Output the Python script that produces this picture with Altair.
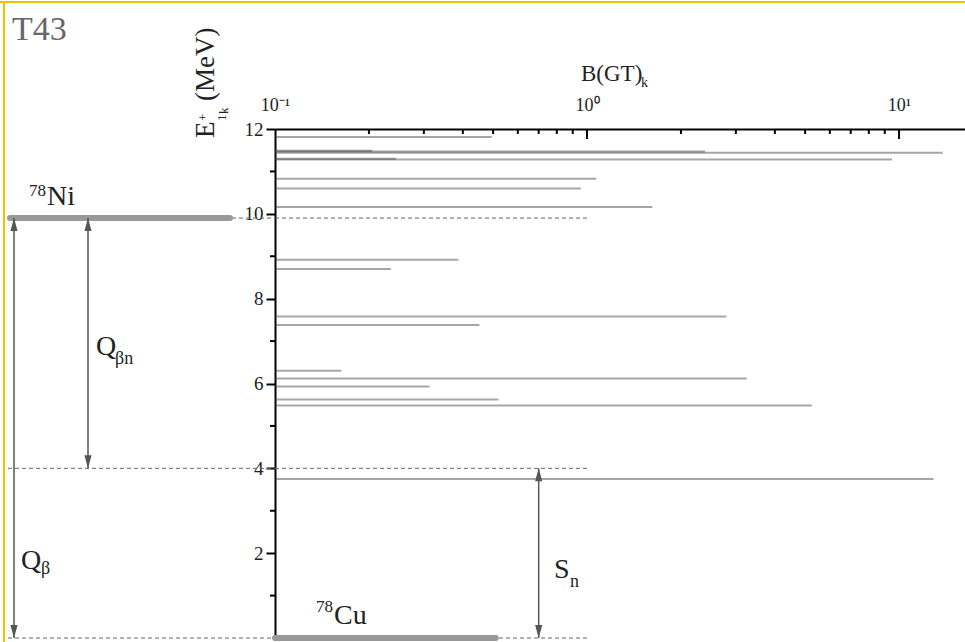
import altair as alt
import pandas as pd

# ---------------- data ----------------
energies = [11.81, 11.49, 11.47, 11.44, 11.30, 11.28, 10.83, 10.60, 10.16,
            8.92, 8.70, 7.58, 7.38, 6.30, 6.12, 5.93, 5.62, 5.48, 3.75]
bgt = [0.495, 0.205, 2.39, 13.8, 0.244, 9.5, 1.07, 0.955, 1.62,
       0.387, 0.235, 2.8, 0.452, 0.163, 3.25, 0.313, 0.52, 5.25, 12.9]

Q_BETA = 9.9      # 78Ni ground state relative to 78Cu
S_N = 4.0         # neutron separation energy
E_CU = 0.0
CU_BAR_END = 0.51
SN_ARROW_X = 0.70

y_major = [2, 4, 6, 8, 10, 12]
y_minor = [1, 3, 5, 7, 9, 11]
x_major = [0.1, 1, 10]
x_major_ticks = [1, 10]
x_minor = [0.2, 0.3, 0.4, 0.5, 0.6, 0.7, 0.8, 0.9, 2, 3, 4, 5, 6, 7, 8, 9]

# ---------------- layout ----------------
W, H = 690, 509
OX, OY = 275, 129          # page position of the plot origin (top-left)
SERIF = "Liberation Serif"
GRAY = "#555555"

def px(x):
    return x - OX

def py(y):
    return y - OY

xscale = alt.Scale(type="log", domain=[0.1, 16.27], nice=False, zero=False)
yscale = alt.Scale(domain=[0, 12], nice=False, zero=False)

xaxis = alt.Axis(orient="top", values=x_major, ticks=False, grid=False,
                 labelExpr="datum.value < 0.5 ? '10⁻¹' : (datum.value < 5 ? '10⁰' : '10¹')",
                 labelFont=SERIF, labelFontSize=18, labelColor="#222",
                 labelPadding=15, domainColor="black", domainWidth=2, title=None,
                 labelFlush=False)
yaxis = alt.Axis(orient="left", values=y_major, tickSize=9, tickWidth=2, tickColor="black",
                 grid=False, labelFont=SERIF, labelFontSize=19, labelColor="#222",
                 labelPadding=3, domainColor="black", domainWidth=2, title=None)

X = lambda f: alt.X(f, scale=xscale, axis=xaxis)
Y = lambda f: alt.Y(f, scale=yscale, axis=yaxis)

one = alt.Data(values=[{"a": 1}])

# ---------------- B(GT) bars ----------------
bars_df = pd.DataFrame({"E": energies, "bgt": bgt})
bars_df["base"] = x_major[0]
bars = alt.Chart(bars_df).mark_rule(color="#3a3a3a", opacity=0.45, strokeWidth=2).encode(
    x=X("base:Q"), x2="bgt:Q", y=Y("E:Q"))

# ---------------- dashed levels ----------------
lev_df = pd.DataFrame({"E": [Q_BETA, S_N, E_CU], "start": [0.1] * 3, "end": [1.0] * 3})
dash_right = alt.Chart(lev_df).mark_rule(color="#666", strokeWidth=1, strokeDash=[4, 3]).encode(
    x=X("start:Q"), x2="end:Q", y=Y("E:Q"))
dash_left = alt.Chart(lev_df).mark_rule(color="#666", strokeWidth=1, strokeDash=[4, 3]).encode(
    x=alt.value(px(8)), x2=alt.value(0), y=Y("E:Q"))

# ---------------- ground-state levels ----------------
ni_df = pd.DataFrame({"E": [Q_BETA]})
ni_line = alt.Chart(ni_df).mark_rule(color="#999", strokeWidth=6, strokeCap="round").encode(
    x=alt.value(px(10)), x2=alt.value(px(230)), y=Y("E:Q"))
cu_df = pd.DataFrame({"E": [E_CU], "s": [0.1], "e": [CU_BAR_END]})
cu_line = alt.Chart(cu_df).mark_rule(color="#999", strokeWidth=6, strokeCap="round").encode(
    x=X("s:Q"), x2="e:Q", y=Y("E:Q"))

# ---------------- arrows ----------------
UP = "M0,0L-0.55,2L0.55,2Z"
DOWN = "M0,0L-0.55,-2L0.55,-2Z"

def left_arrow(xpage, top, bottom):
    d = pd.DataFrame({"t": [top], "b": [bottom]})
    base = alt.Chart(d)
    line = base.mark_rule(color=GRAY, strokeWidth=1.5).encode(
        x=alt.value(px(xpage)), y=Y("t:Q"), y2="b:Q")
    up = base.mark_point(shape=UP, filled=True, size=169, color=GRAY, opacity=1).encode(
        x=alt.value(px(xpage)), y=Y("t:Q"))
    dn = base.mark_point(shape=DOWN, filled=True, size=169, color=GRAY, opacity=1).encode(
        x=alt.value(px(xpage)), y=Y("b:Q"))
    return [line, up, dn]

def data_arrow(xv, top, bottom):
    d = pd.DataFrame({"x": [xv], "t": [top], "b": [bottom]})
    base = alt.Chart(d)
    line = base.mark_rule(color=GRAY, strokeWidth=1.5).encode(
        x=X("x:Q"), y=Y("t:Q"), y2="b:Q")
    up = base.mark_point(shape=UP, filled=True, size=169, color=GRAY, opacity=1).encode(
        x=X("x:Q"), y=Y("t:Q"))
    dn = base.mark_point(shape=DOWN, filled=True, size=169, color=GRAY, opacity=1).encode(
        x=X("x:Q"), y=Y("b:Q"))
    return [line, up, dn]

arrows = left_arrow(14, Q_BETA, E_CU) + left_arrow(88, Q_BETA, S_N) + data_arrow(SN_ARROW_X, S_N, E_CU)

# ---------------- ticks ----------------
xt_major = alt.Chart(pd.DataFrame({"v": x_major_ticks})).mark_rule(color="black", strokeWidth=2).encode(
    x=X("v:Q"), y=alt.value(0), y2=alt.value(10))
xt_minor = alt.Chart(pd.DataFrame({"v": x_minor})).mark_rule(color="black", strokeWidth=2).encode(
    x=X("v:Q"), y=alt.value(0), y2=alt.value(5))
yt_minor = alt.Chart(pd.DataFrame({"v": y_minor})).mark_rule(color="black", strokeWidth=2).encode(
    x=alt.value(-5), x2=alt.value(0), y=Y("v:Q"))

# ---------------- texts ----------------
def txt(s, xpage, ypage, size, color="#222", angle=None, align="left"):
    kw = dict(text=s, fontSize=size, font=SERIF, color=color, align=align, baseline="alphabetic")
    if angle is not None:
        kw["angle"] = angle
    return alt.Chart(one).mark_text(**kw).encode(x=alt.value(px(xpage)), y=alt.value(py(ypage)))

texts = [
    txt("T43", 12, 40, 34, color="#666"),
    # x-axis title
    txt("B(GT)", 581, 81, 23),
    txt("k", 641, 87, 14),
    # y-axis title (rotated)
    txt("E", 214, 138, 27, angle=270),
    txt("1", 226, 121, 13, angle=270),
    txt("+", 207, 121, 13, angle=270),
    txt("k", 228, 114, 13, angle=270),
    txt("(MeV)", 214, 101, 27, angle=270),
    # level labels
    txt("78", 29, 196, 17),
    txt("Ni", 47, 205, 28),
    txt("78", 316, 612, 17),
    txt("Cu", 334, 624, 28),
    txt("Q", 96, 355, 28),
    txt("βn", 115, 364, 18),
    txt("Q", 21, 569, 28),
    txt("β", 41, 574, 18),
    txt("S", 554, 578, 28),
    txt("n", 570, 587, 18),
]

# ---------------- golden frame ----------------
frame_top = alt.Chart(one).mark_rule(color="#f2c200", strokeWidth=2).encode(
    x=alt.value(px(0)), x2=alt.value(W), y=alt.value(py(2)))
frame_left = alt.Chart(one).mark_rule(color="#f2c200", strokeWidth=2).encode(
    x=alt.value(px(4)), y=alt.value(py(1)), y2=alt.value(H + 4))

layers = [dash_left, dash_right, bars, ni_line, cu_line] + arrows + \
         [xt_major, xt_minor, yt_minor] + texts + [frame_top, frame_left]

chart = alt.layer(*layers).properties(
    width=W, height=H,
    autosize=alt.AutoSizeParams(type="none"),
    padding={"left": OX, "top": OY, "right": 965 - OX - W, "bottom": 642 - OY - H},
    background="white",
).configure_view(stroke=None)

chart.save("out.html", embed_options={"renderer": "svg", "actions": False})
